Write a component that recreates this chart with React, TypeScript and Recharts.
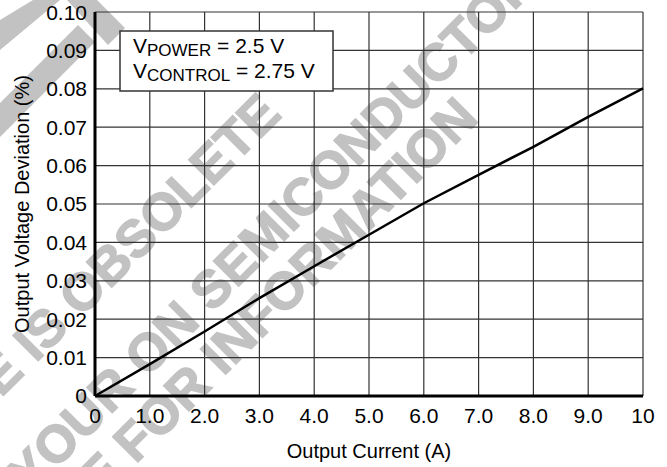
import React from "react";
import { LineChart, Line, XAxis, YAxis, CartesianGrid } from "recharts";

// output current (A)
const current = [0, 1, 2, 3, 4, 5, 6, 7, 8, 9, 10];
// output voltage deviation (%)
const deviation = [0, 0.0083, 0.0168, 0.0255, 0.0338, 0.042, 0.0502, 0.0576, 0.0649, 0.0727, 0.0801];

const xTicks = [0, 1, 2, 3, 4, 5, 6, 7, 8, 9, 10];
const yTicks = [0, 0.01, 0.02, 0.03, 0.04, 0.05, 0.06, 0.07, 0.08, 0.09, 0.1];

const watermarkLines = [
  "THIS DEVICE IS OBSOLETE",
  "PLEASE CONTACT YOUR ON SEMICONDUCTOR",
  "REPRESENTATIVE FOR INFORMATION",
];

const data = current.map((x, i) => ({ x, y: deviation[i] }));

const FONT = "'Liberation Sans', Arial, Helvetica, sans-serif";
const W = 667;
const H = 467;
const STAMP = "#c2c2c2";

function Watermark() {
  // baseline end of each stamp line
  const ends = [
    [283, 116],
    [540, -15],
    [480, 120],
  ];
  return (
    <svg width={W} height={H} style={{ position: "absolute", left: 0, top: 0 }}>
      {/* stamp frame pieces in the top-left corner */}
      <polygon points="0,20 33,0 60,0 0,50" fill={STAMP} />
      <polygon points="0,103 0,137 95,42 78,25" fill={STAMP} />
      <polygon points="67,0 97,0 125,28 108,45" fill={STAMP} />
      {watermarkLines.map((t, i) => (
        <text
          key={i}
          x={ends[i][0]}
          y={ends[i][1]}
          textAnchor="end"
          fontFamily={FONT}
          fontWeight="bold"
          fontSize={52}
          fill={STAMP}
          stroke={STAMP}
          strokeWidth={1.5}
          transform={`rotate(-45 ${ends[i][0]} ${ends[i][1]})`}
        >
          {t}
        </text>
      ))}
    </svg>
  );
}

function Conditions() {
  return (
    <svg width={W} height={H} style={{ position: "absolute", left: 0, top: 0, pointerEvents: "none" }}>
      <rect x={120} y={31} width={213} height={60} fill="#fff" stroke="#333" strokeWidth={1.5} />
      <text x={133} y={53} fontFamily={FONT} fontSize={21} fill="#000">
        V
        <tspan fontSize={17} dy={2.5}>POWER</tspan>
        <tspan dy={-2.5}> = 2.5 V</tspan>
      </text>
      <text x={133} y={78} fontFamily={FONT} fontSize={21} fill="#000">
        V
        <tspan fontSize={17} dy={2.5}>CONTROL</tspan>
        <tspan dy={-2.5}> = 2.75 V</tspan>
      </text>
    </svg>
  );
}

export default function App() {
  const tickStyle = { fontSize: 21, fill: "#000", fontFamily: FONT };
  return (
    <div style={{ position: "absolute", left: 0, top: 0, width: W, height: H, background: "#fff" }}>
      <Watermark />
      <div style={{ position: "absolute", left: 0, top: 0 }}>
        <LineChart width={W} height={H} data={data} margin={{ top: 12, right: 24, left: 0, bottom: 0 }}>
          <CartesianGrid stroke="#333" strokeWidth={1.2} />
          <XAxis
            dataKey="x"
            type="number"
            domain={[0, 10]}
            ticks={xTicks}
            tickFormatter={(v: number) => (v === 0 || v === 10 ? String(v) : v.toFixed(1))}
            height={71}
            tickSize={0}
            tickMargin={12}
            tick={tickStyle}
            axisLine={{ stroke: "#000", strokeWidth: 3 }}
            label={{
              value: "Output Current (A)",
              position: "insideBottom",
              offset: 9,
              style: { fontSize: 20, fill: "#000", fontFamily: FONT },
            }}
          />
          <YAxis
            type="number"
            domain={[0, 0.1]}
            ticks={yTicks}
            tickFormatter={(v: number) => (v === 0 ? "0" : v.toFixed(2))}
            width={95}
            tickSize={0}
            tickMargin={8}
            tick={tickStyle}
            axisLine={{ stroke: "#000", strokeWidth: 3 }}
            label={{
              value: "Output Voltage Deviation (%)",
              angle: -90,
              position: "insideLeft",
              offset: 22,
              style: { fontSize: 20, fill: "#000", fontFamily: FONT, textAnchor: "middle" },
            }}
          />
          <Line
            dataKey="y"
            type="linear"
            stroke="#000"
            strokeWidth={2.5}
            dot={false}
            isAnimationActive={false}
          />
        </LineChart>
      </div>
      <Conditions />
    </div>
  );
}
